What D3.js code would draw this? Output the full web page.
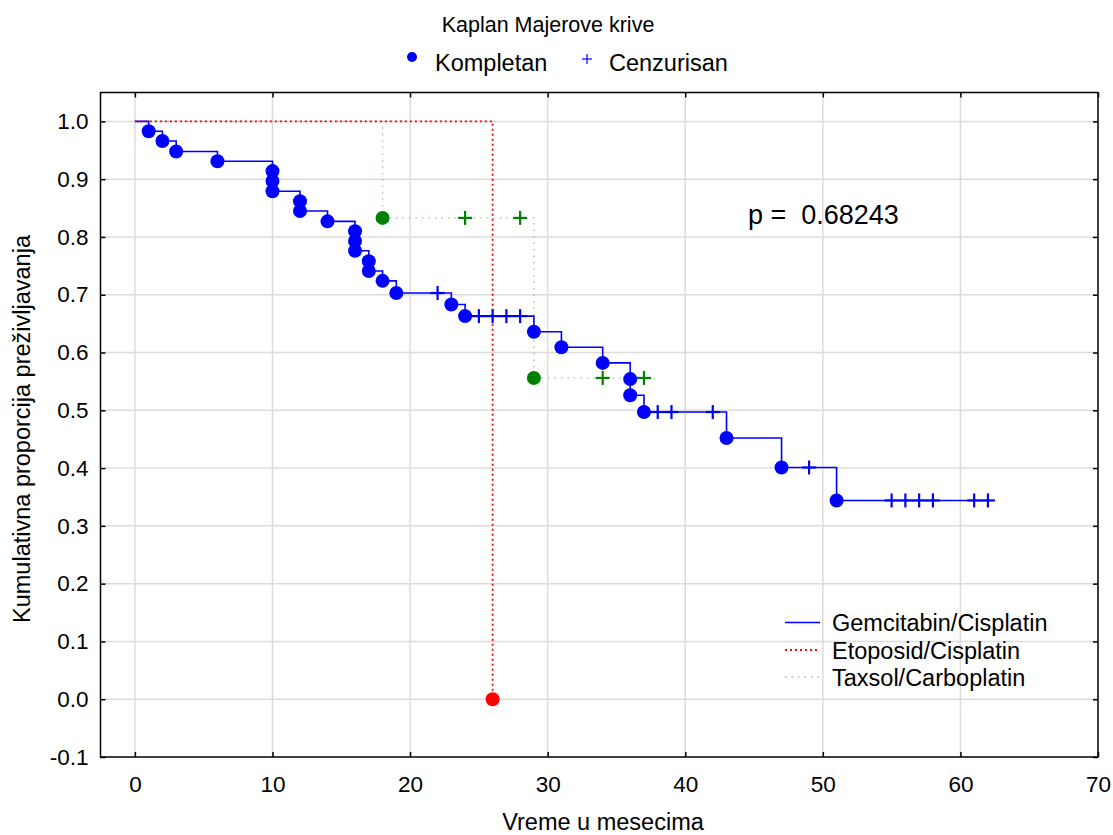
<!DOCTYPE html>
<html>
<head>
<meta charset="utf-8">
<script src="https://cdn.jsdelivr.net/npm/d3@7"></script>
<style>
  body { margin: 0; background: #fff; }
  svg { font-family: "Liberation Sans", Arial, sans-serif; }
</style>
</head>
<body>
<svg id="chart" width="1113" height="835"></svg>
<script>
// Gemcitabin/Cisplatin
var gemEventTimes = [1, 2, 3, 6, 10, 10, 10, 12, 12, 14, 16, 16, 16, 17, 17, 18, 19, 23, 24, 29, 31, 34, 36, 36, 37, 43, 47, 51];
var gemEventSurv = [0.983, 0.966, 0.948, 0.931, 0.914, 0.897, 0.879, 0.862, 0.845, 0.827, 0.810, 0.793, 0.776, 0.758, 0.741, 0.724, 0.703, 0.683, 0.663, 0.636, 0.609, 0.582, 0.554, 0.526, 0.497, 0.452, 0.401, 0.344];
var gemCensTimes = [22, 25, 26, 27, 28, 38, 39, 42, 49, 55, 56, 57, 58, 61, 62];

// Etoposid/Cisplatin
var etoEventTimes = [26];
var etoEventSurv = [0.0];
var etoCensTimes = [];

// Taxsol/Carboplatin
var taxEventTimes = [18, 29];
var taxEventSurv = [0.833, 0.556];
var taxCensTimes = [24, 28, 34, 37];

var xTicks = [0, 10, 20, 30, 40, 50, 60, 70];
var yTicks = [-0.1, 0.0, 0.1, 0.2, 0.3, 0.4, 0.5, 0.6, 0.7, 0.8, 0.9, 1.0];
var groupNames = ["Gemcitabin/Cisplatin", "Etoposid/Cisplatin", "Taxsol/Carboplatin"];
var pText = "p =  0.68243";

var plotL = 100.5, plotR = 1098, plotT = 92.5, plotB = 757;

var x = d3.scaleLinear().domain([-2.5, 70]).range([plotL, plotR]);
var y = d3.scaleLinear().domain([-0.1, 1.05]).range([plotB, plotT]);

var svg = d3.select("#chart");

// grid
svg.append("g").selectAll("line").data(xTicks.filter(function(d){ return d > -2.5 && d < 70; }))
  .enter().append("line")
  .attr("x1", function(d){ return x(d); }).attr("x2", function(d){ return x(d); })
  .attr("y1", plotT).attr("y2", plotB)
  .attr("stroke", "#dcdcdc").attr("stroke-width", 1.5);
svg.append("g").selectAll("line").data(yTicks.filter(function(d){ return d > -0.1; }))
  .enter().append("line")
  .attr("y1", function(d){ return y(d); }).attr("y2", function(d){ return y(d); })
  .attr("x1", plotL).attr("x2", plotR)
  .attr("stroke", "#dcdcdc").attr("stroke-width", 1.5);

// axes (ticks inward on all sides)
var fmt = function(d){ return d3.format(".1f")(d).replace("\u2212", "-"); };
var gx = svg.append("g").attr("transform", "translate(0," + plotB + ")")
  .call(d3.axisBottom(x).tickValues(xTicks).tickSize(-5).tickPadding(19).tickFormat(d3.format("d")));
var gxt = svg.append("g").attr("transform", "translate(0," + plotT + ")")
  .call(d3.axisTop(x).tickValues(xTicks).tickSize(-5).tickFormat(""));
var gy = svg.append("g").attr("transform", "translate(" + plotL + ",0)")
  .call(d3.axisLeft(y).tickValues(yTicks).tickSize(-5).tickPadding(12).tickFormat(fmt));
var gyr = svg.append("g").attr("transform", "translate(" + plotR + ",0)")
  .call(d3.axisRight(y).tickValues(yTicks).tickSize(-5).tickFormat(""));
[gx, gxt, gy, gyr].forEach(function(g){
  g.select(".domain").remove();
  g.selectAll("line").attr("stroke", "#000").attr("stroke-width", 1.5);
  g.selectAll("text").attr("font-size", 22.5).attr("fill", "#000").attr("font-family", "Liberation Sans, Arial, sans-serif");
});
svg.append("rect").attr("x", plotL).attr("y", plotT).attr("width", plotR - plotL).attr("height", plotB - plotT)
  .attr("fill", "none").attr("stroke", "#000").attr("stroke-width", 1.5);

// step curves
function stepPoints(times, surv, cens) {
  var pts = [[0, 1]];
  times.forEach(function(t, i){ pts.push([t, surv[i]]); });
  var last = pts[pts.length - 1];
  var maxC = cens.length ? d3.max(cens) : 0;
  if (maxC > last[0]) pts.push([maxC, last[1]]);
  return pts;
}
function survAt(times, surv, t) {
  var s = 1;
  times.forEach(function(tt, i){ if (tt <= t) s = surv[i]; });
  return s;
}
var line = d3.line().x(function(d){ return x(d[0]); }).y(function(d){ return y(d[1]); }).curve(d3.curveStepAfter);

var groups = [
  {times: taxEventTimes, surv: taxEventSurv, cens: taxCensTimes, line: "#8fd08f", dash: "1.5,5", lw: 1.3, mark: "#008000"},
  {times: gemEventTimes, surv: gemEventSurv, cens: gemCensTimes, line: "#0000ff", dash: null, lw: 1.6, mark: "#0000ff"},
  {times: etoEventTimes, surv: etoEventSurv, cens: etoCensTimes, line: "#ff0000", dash: "2,3", lw: 1.8, mark: "#ff0000"}
];

groups.forEach(function(g){
  svg.append("path").attr("d", line(stepPoints(g.times, g.surv, g.cens)))
    .attr("fill", "none").attr("stroke", g.line).attr("stroke-width", g.lw)
    .attr("stroke-dasharray", g.dash);
});

groups.forEach(function(g){
  var gg = svg.append("g");
  gg.selectAll("circle").data(g.times).enter().append("circle")
    .attr("cx", function(d){ return x(d); })
    .attr("cy", function(d, i){ return y(g.surv[i]); })
    .attr("r", 7).attr("fill", g.mark);
  var cs = gg.selectAll("g.c").data(g.cens).enter().append("g")
    .attr("transform", function(d){ return "translate(" + x(d) + "," + y(survAt(g.times, g.surv, d)) + ")"; });
  cs.append("line").attr("x1", -7).attr("x2", 7).attr("stroke", g.mark).attr("stroke-width", 2.2);
  cs.append("line").attr("y1", -7).attr("y2", 7).attr("stroke", g.mark).attr("stroke-width", 2.2);
});

// title and top legend
svg.append("text").attr("x", 548).attr("y", 32).attr("text-anchor", "middle")
  .attr("font-size", 21.5).text("Kaplan Majerove krive");
svg.append("circle").attr("cx", 412).attr("cy", 57).attr("r", 5).attr("fill", "#0000ff");
svg.append("text").attr("x", 435).attr("y", 71).attr("font-size", 23.5).text("Kompletan");
svg.append("line").attr("x1", 582).attr("x2", 592).attr("y1", 59).attr("y2", 59).attr("stroke", "#0000ff").attr("stroke-width", 1.2);
svg.append("line").attr("x1", 587).attr("x2", 587).attr("y1", 54).attr("y2", 64).attr("stroke", "#0000ff").attr("stroke-width", 1.2);
svg.append("text").attr("x", 609).attr("y", 71).attr("font-size", 23.5).text("Cenzurisan");

// p-value
svg.append("text").attr("x", 748).attr("y", 224).attr("font-size", 27).style("white-space", "pre").text(pText);

// bottom legend
var legY = [622.5, 650, 677];
var legStyles = [groups[1], groups[2], groups[0]];
groupNames.forEach(function(n, i){
  svg.append("line").attr("x1", 785).attr("x2", 820).attr("y1", legY[i]).attr("y2", legY[i])
    .attr("stroke", legStyles[i].line).attr("stroke-width", legStyles[i].lw)
    .attr("stroke-dasharray", legStyles[i].dash);
  svg.append("text").attr("x", 832).attr("y", legY[i] + 8.5).attr("font-size", 23.5).text(n);
});

// axis titles
svg.append("text").attr("x", 603).attr("y", 830).attr("text-anchor", "middle")
  .attr("font-size", 23.5).text("Vreme u mesecima");
svg.append("text").attr("transform", "translate(30,429) rotate(-90)").attr("text-anchor", "middle")
  .attr("font-size", 23.5).text("Kumulativna proporcija preživljavanja");
</script>
</body>
</html>
